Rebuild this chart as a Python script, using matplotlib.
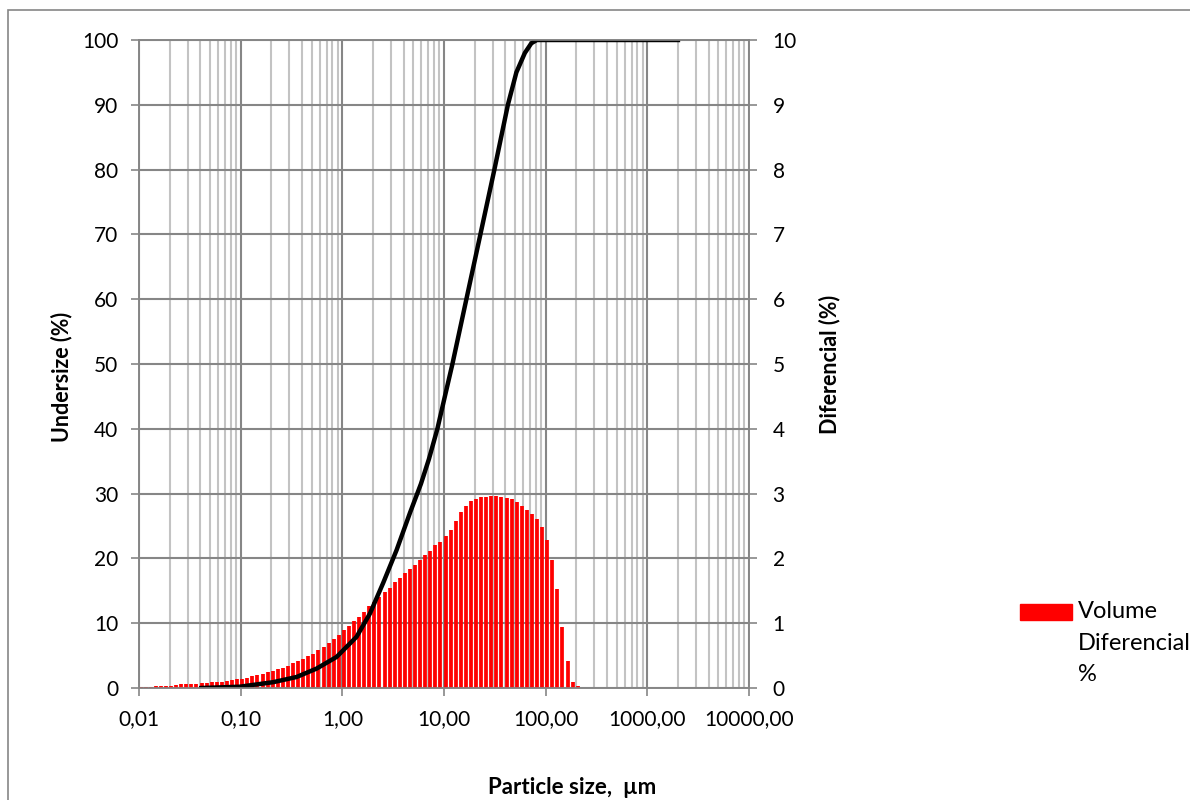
import matplotlib
matplotlib.use("Agg")
import matplotlib.pyplot as plt
from matplotlib.patches import Rectangle
from matplotlib.ticker import FixedLocator, NullFormatter, LogLocator

plt.rcParams['font.family'] = ['Lato', 'DejaVu Sans']

# size classes (um), 20 per decade
class_mantissa = [1.04, 1.16, 1.30, 1.46, 1.64, 1.84, 2.07, 2.32, 2.60, 2.92,
                  3.27, 3.67, 4.12, 4.62, 5.19, 5.82, 6.53, 7.33, 8.22, 9.23]
class_decades = [0.01, 0.1, 1, 10, 100]
size_class = [m * d for d in class_decades for m in class_mantissa][:87]

# volume differential (%), right axis
diff_pct = [0.02, 0.02, 0.02, 0.025, 0.025, 0.03, 0.035, 0.045, 0.055, 0.06,
            0.065, 0.065, 0.07, 0.08, 0.09, 0.095, 0.10, 0.115, 0.125, 0.135,
            0.145, 0.16, 0.185, 0.20, 0.22, 0.25, 0.27, 0.29, 0.31, 0.34,
            0.38, 0.41, 0.45, 0.49, 0.53, 0.58, 0.64, 0.70, 0.76, 0.82,
            0.89, 0.96, 1.04, 1.10, 1.18, 1.26, 1.33, 1.41, 1.48, 1.55,
            1.63, 1.70, 1.77, 1.84, 1.90, 1.97, 2.05, 2.12, 2.20, 2.26,
            2.34, 2.44, 2.58, 2.71, 2.81, 2.89, 2.92, 2.94, 2.95, 2.96,
            2.96, 2.95, 2.93, 2.91, 2.87, 2.81, 2.75, 2.69, 2.61, 2.49,
            2.29, 1.97, 1.53, 0.94, 0.41, 0.10, 0.03]

# cumulative undersize (%), left axis
cum_size = [0.041, 0.098, 0.209, 0.355, 0.559, 0.879, 1.38, 1.87, 2.52, 3.42,
            4.62, 5.93, 7.10, 8.61, 10.2, 12.1, 16.6, 22.8, 31.3, 42.5,
            51.5, 62.4, 72.3, 81.9, 2000]
undersize = [0, 0.2, 0.9, 1.7, 3.0, 4.8, 7.9, 11.5, 16.2, 21.3,
             27.0, 31.5, 35.3, 40, 45, 50, 60, 70, 80, 90,
             95, 98, 99.5, 100, 100]

x_ticks = [0.01, 0.1, 1, 10, 100, 1000, 10000]
x_labels = ['0,01', '0,10', '1,00', '10,00', '100,00', '1000,00', '10000,00']

grid_dark = '#868686'
grid_light = '#c3c3c3'

fig = plt.figure(figsize=(11.9, 8), dpi=100)
ax = fig.add_axes([139 / 1190, 112 / 800, 610 / 1190, 648 / 800])
ax.set_xscale('log')
ax.set_xlim(0.01, 10000)
ax.set_ylim(0, 100)
ax.xaxis.set_major_locator(FixedLocator(x_ticks))
ax.set_xticklabels(x_labels)
ax.xaxis.set_minor_locator(LogLocator(base=10, subs=range(2, 10)))
ax.xaxis.set_minor_formatter(NullFormatter())
ax.set_yticks(range(0, 101, 10))

ax.grid(which='major', color=grid_dark, lw=1.5)
ax.grid(which='minor', axis='x', color=grid_light, lw=1.5)
ax.set_axisbelow(True)
ax.tick_params(which='major', direction='out', length=6, width=1.2,
               color=grid_dark, labelsize=15)
ax.tick_params(axis='y', pad=9)
ax.tick_params(axis='x', pad=9)
ax.tick_params(which='minor', length=0)
for s in ax.spines.values():
    s.set_color(grid_dark)
    s.set_linewidth(1.2)

ax2 = ax.twinx()
ax2.set_ylim(0, 10)
ax2.set_yticks(range(0, 11))
ax2.tick_params(direction='out', length=6, width=1.2, color=grid_dark,
                labelsize=15, pad=11)
for s in ax2.spines.values():
    s.set_color(grid_dark)
    s.set_linewidth(1.2)

# red differential bars, then the undersize curve on top of them
ax2.vlines(size_class, 0, diff_pct, colors='#ff0000', lw=2.7)
ax2.plot(cum_size, undersize, color='black', lw=3.2, transform=ax.transData,
         solid_joinstyle='round')
ax2.set_ylim(0, 10)
ax.set_xlim(0.01, 10000)

ax.set_ylabel('Undersize (%)', fontsize=15.5, fontweight='bold')
ax.yaxis.set_label_coords(-0.11, 0.48)
ax2.set_ylabel('Diferencial (%)', fontsize=15.5, fontweight='bold')
ax2.yaxis.set_label_coords(1.1145, 0.5)
fig.text(572 / 1190, 1 - 787 / 800, 'Particle size,  µm', ha='center',
         va='center', fontsize=16, fontweight='bold')

# legend, drawn by hand like the Excel one
fig.patches.append(Rectangle((1020 / 1190, 1 - 620 / 800), 52 / 1190, 16 / 800,
                             transform=fig.transFigure, color='#ff0000'))
fig.text(1078 / 1190, 1 - 601 / 800, 'Volume\nDiferencial\n%', ha='left',
         va='top', fontsize=17, linespacing=1.62)

# chart area border
fig.patches.append(Rectangle((8 / 1190, -0.1), 1.2, 1.1 - 10 / 800,
                             transform=fig.transFigure, fill=False,
                             edgecolor=grid_dark, lw=1.2))

fig.savefig('out.png', dpi=100)
